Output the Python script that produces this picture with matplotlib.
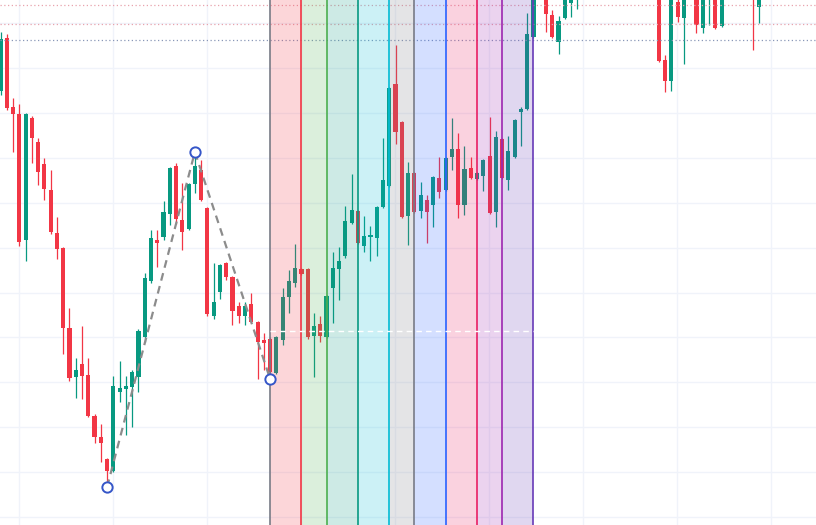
import numpy as np
import matplotlib
matplotlib.use("Agg")
import matplotlib.pyplot as plt

# candle data (open, high, low, close), one entry per bar
opens = [434, 487, 418, 411, 285, 407, 383, 361, 335, 292,
         277, 197, 148, 161, 150, 109, 88, 66, 54, 133,
         136, 138, 148, 188, 244, 285, 288, 311, 359, 305,
         296, 341, 355, 317, 209, 233, 262, 248, 219, 209,
         221, 203, 185, 186, 152, 185, 228, 242, 256, 256,
         189, 201, 188, 237, 256, 269, 302, 314, 279, 288,
         287, 318, 339, 441, 403, 309, 352, 314, 325, 320,
         347, 335, 368, 376, 320, 357, 346, 349, 369, 313,
         386, 345, 368, 413, 416, 488, 548, 540, 510, 483,
         507, 522, 530, 556, 570, 585, 572, 590, 604, 582,
         596, 580, 566, 578, 560, 545, 465, 444, 523, 507,
         540, 535, 497, 530, 533, 499, 531, 550, 545, 556,
         550, 518]
highs = [493, 491, 427, 421, 412, 409, 387, 367, 355, 308,
         278, 217, 167, 199, 167, 111, 101, 67, 149, 164,
         149, 155, 196, 252, 295, 295, 324, 358, 362, 342,
         342, 370, 365, 318, 262, 261, 263, 249, 223, 223,
         232, 204, 192, 188, 189, 237, 255, 281, 257, 257,
         212, 209, 230, 273, 278, 319, 351, 315, 309, 299,
         319, 387, 438, 480, 404, 363, 353, 343, 330, 349,
         368, 368, 407, 392, 379, 368, 353, 366, 408, 394,
         387, 389, 406, 418, 512, 550, 572, 545, 515, 509,
         540, 555, 565, 578, 590, 598, 595, 612, 610, 600,
         606, 590, 585, 582, 572, 555, 470, 545, 530, 550,
         562, 540, 535, 550, 537, 535, 556, 566, 560, 572,
         555, 545]
lows = [430, 415, 373, 279, 264, 362, 340, 325, 291, 266,
        171, 144, 127, 126, 108, 82, 63, 43, 53, 123,
        90, 98, 133, 183, 242, 258, 285, 300, 301, 275,
        295, 332, 324, 209, 206, 226, 245, 200, 202, 200,
        202, 146, 155, 148, 151, 180, 212, 238, 250, 186,
        148, 183, 187, 202, 225, 267, 301, 281, 273, 264,
        269, 317, 338, 381, 307, 280, 312, 307, 282, 298,
        327, 334, 355, 307, 310, 346, 345, 334, 311, 298,
        346, 335, 367, 379, 415, 487, 533, 493, 487, 471,
        506, 508, 516, 540, 560, 566, 562, 584, 578, 570,
        575, 560, 555, 556, 540, 463, 433, 434, 503, 461,
        530, 492, 492, 500, 496, 498, 528, 538, 533, 545,
        475, 502]
closes = [486, 417, 411, 283, 411, 387, 353, 336, 293, 276,
          197, 147, 155, 149, 109, 88, 82, 54, 139, 137,
          139, 153, 194, 247, 287, 282, 313, 357, 306, 293,
          341, 359, 325, 211, 223, 260, 248, 214, 209, 219,
          203, 183, 182, 153, 188, 228, 244, 257, 251, 188,
          199, 189, 229, 257, 264, 304, 315, 282, 289, 290,
          318, 345, 437, 393, 308, 352, 313, 330, 313, 348,
          333, 367, 376, 320, 356, 347, 352, 365, 312, 388,
          347, 374, 405, 416, 491, 545, 560, 511, 488, 504,
          535, 545, 555, 570, 585, 572, 590, 604, 582, 596,
          580, 566, 578, 560, 548, 464, 444, 535, 508, 540,
          552, 500, 530, 545, 497, 531, 550, 545, 556, 550,
          530, 540]

# trend-based fib time: three pivot points (bar, price)
pivot_bars = [17, 31, 43]
pivot_prices = [38, 373, 146]
fib_levels = [0, 0.382, 0.618, 1, 1.382, 1.618, 2, 2.382, 2.618, 3]
fib_colors = ["#787b86", "#f23645", "#4caf50", "#089981", "#00bcd4",
              "#787b86", "#2962ff", "#e91e63", "#9c27b0", "#673ab7"]

# horizontal reference lines
hline_prices = [520, 501, 485]
hline_colors = ["#e8a3ad", "#e8a3ad", "#8a98b8"]
last_price = 194

UP = "#089981"
DOWN = "#f23645"

fig = plt.figure(figsize=(8.16, 5.25), dpi=100)
ax = fig.add_axes([0, 0, 1, 1])
ax.set_xlim(-0.08, 130.06)
ax.set_ylim(0, 525)
ax.axis("off")

# grid
for gx in np.arange(2.9, 131, 15):
    ax.axvline(gx, color="#f0f3fa", lw=1, zorder=0)
for gy in np.arange(8, 525, 44.9):
    ax.axhline(gy, color="#f0f3fa", lw=1, zorder=0)

o = np.array(opens)
h = np.array(highs)
l = np.array(lows)
c = np.array(closes)
idx = np.arange(len(o))
cols = np.where(c >= o, UP, DOWN)

ax.vlines(idx, l, h, colors=cols, lw=0.9, zorder=2)
body_lo = np.minimum(o, c)
body_h = np.maximum(np.abs(c - o), 1.2)
ax.bar(idx, body_h, bottom=body_lo, width=0.66, color=cols, lw=0, zorder=3)

# dotted horizontal lines at the top
for yv, col in zip(hline_prices, hline_colors):
    ax.axhline(yv, color=col, lw=0.9, ls=(0, (1, 2)), zorder=4)

# fib time zones
start = pivot_bars[2]
span = pivot_bars[1] - pivot_bars[0]
zone_x = [np.round(start + lv * span) for lv in fib_levels]
for k in range(1, len(zone_x)):
    ax.axvspan(zone_x[k - 1], zone_x[k], color=fib_colors[k], alpha=0.2,
               lw=0, zorder=5)
for xv, col in zip(zone_x, fib_colors):
    ax.axvline(xv, color=col, lw=1.2, zorder=6)

# white dashed price line across the zones
ax.hlines(last_price, zone_x[0], zone_x[-1], colors="white", lw=1,
          ls=(0, (4, 3)), zorder=6)

# dashed trend path and pivot markers
ax.plot(pivot_bars, pivot_prices, color="#8c8c8c", lw=1.6,
        ls=(0, (3.5, 2.5)), zorder=7)
ax.scatter(pivot_bars, pivot_prices, s=55, facecolors="white",
           edgecolors="#3556c8", linewidths=1.4, zorder=8)

fig.savefig("out.png", dpi=100, facecolor="white")
